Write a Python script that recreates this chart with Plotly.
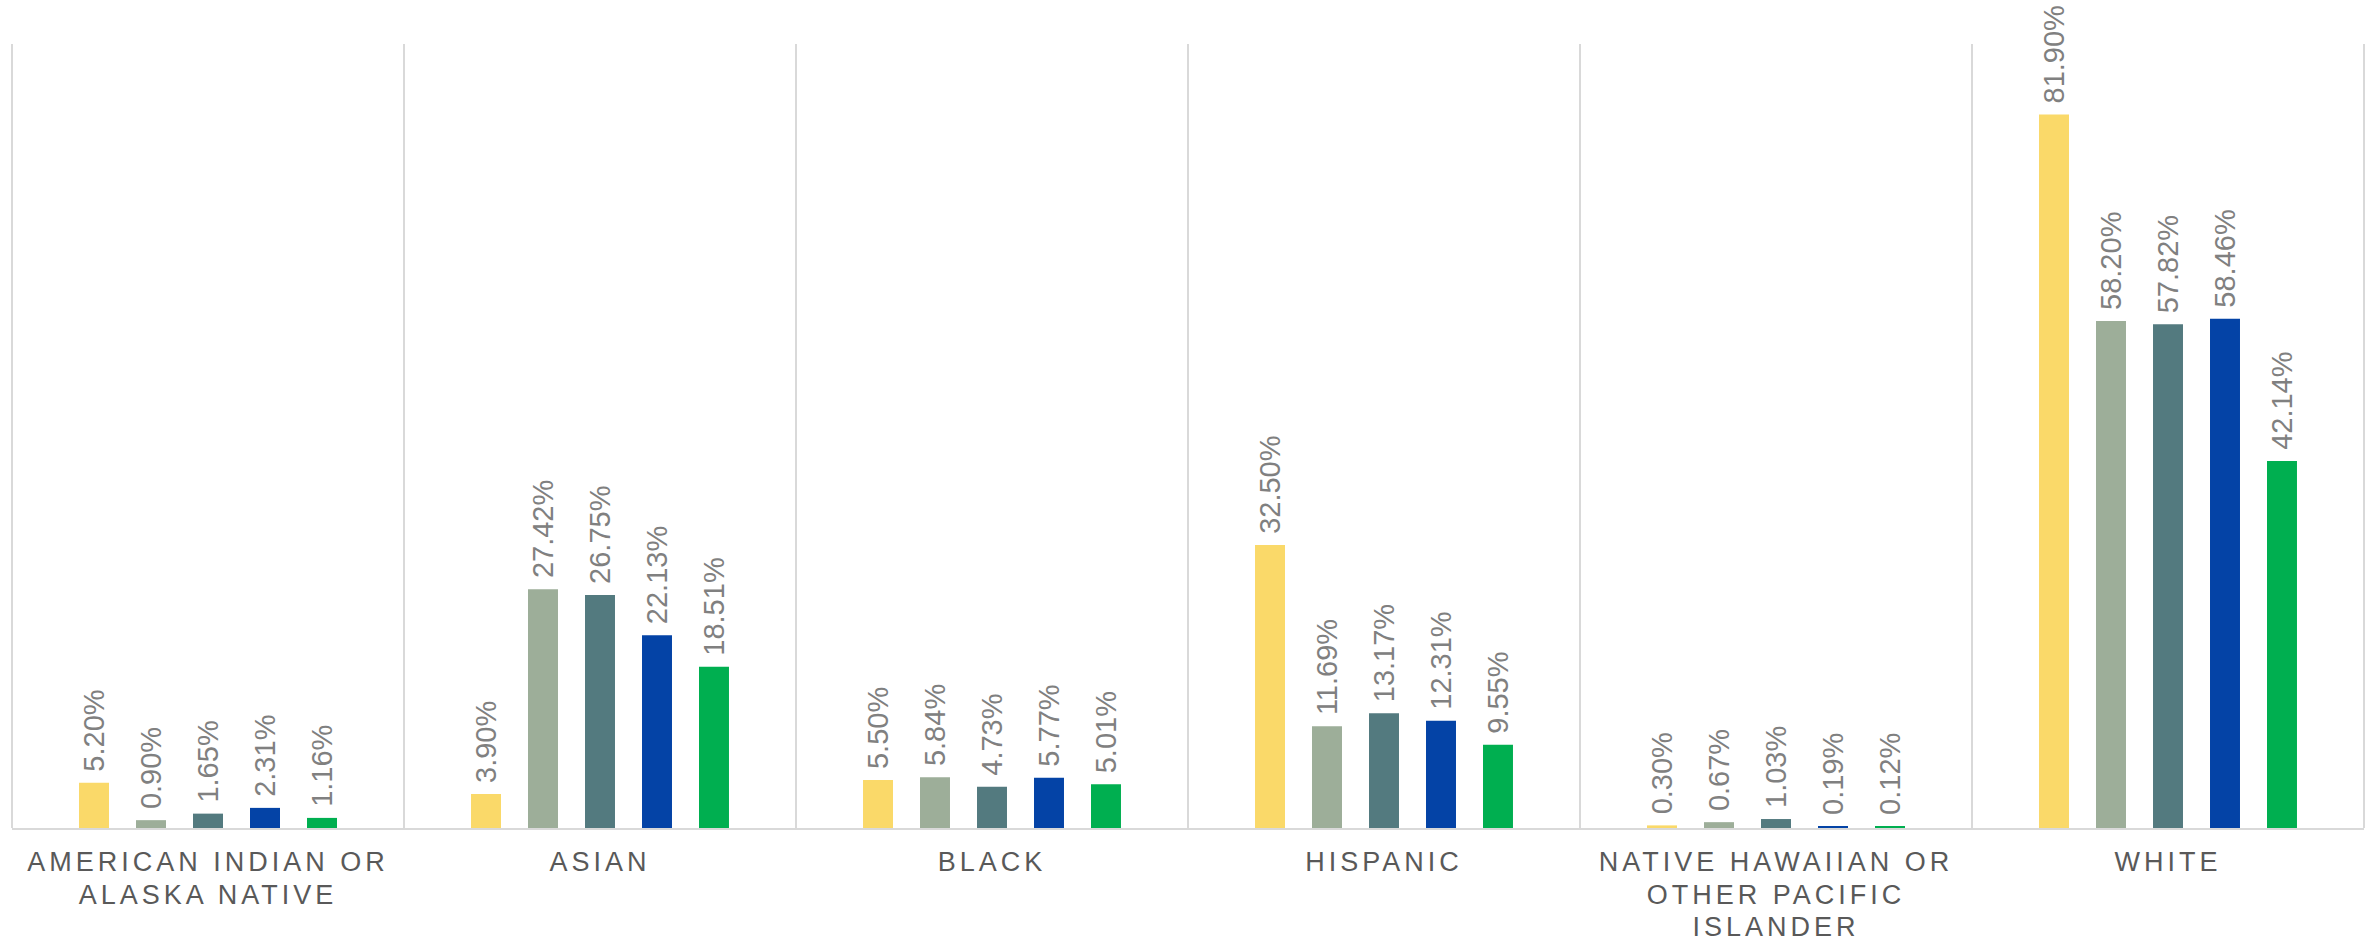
import plotly.graph_objects as go

categories = [
    "AMERICAN INDIAN OR<br>ALASKA NATIVE",
    "ASIAN",
    "BLACK",
    "HISPANIC",
    "NATIVE HAWAIIAN OR<br>OTHER PACIFIC<br>ISLANDER",
    "WHITE",
]

series_names = ["Series 1", "Series 2", "Series 3", "Series 4", "Series 5"]
series_colors = ["#FAD969", "#9DAE99", "#537A7F", "#0443A6", "#00AF50"]

s1 = [5.20, 3.90, 5.50, 32.50, 0.30, 81.90]
s2 = [0.90, 27.42, 5.84, 11.69, 0.67, 58.20]
s3 = [1.65, 26.75, 4.73, 13.17, 1.03, 57.82]
s4 = [2.31, 22.13, 5.77, 12.31, 0.19, 58.46]
s5 = [1.16, 18.51, 5.01, 9.55, 0.12, 42.14]

series_values = [s1, s2, s3, s4, s5]

fig = go.Figure()
PAD = "\u00a0"
for name, color, vals in zip(series_names, series_colors, series_values):
    fig.add_trace(go.Bar(
        x=categories,
        y=vals,
        name=name,
        marker=dict(color=color, line=dict(width=0)),
        text=[PAD + f"{v:.2f}%" for v in vals],
        textposition="outside",
        textangle=-90,
        constraintext="none",
        cliponaxis=False,
        textfont=dict(family="Liberation Sans, Arial, sans-serif", size=29, color="#808080"),
        hoverinfo="skip",
    ))

fig.update_layout(
    width=2377,
    height=941,
    margin=dict(l=12, r=13, t=44, b=113, autoexpand=False),
    paper_bgcolor="white",
    plot_bgcolor="white",
    barmode="group",
    bargap=0.273,
    bargroupgap=0.474,
    showlegend=False,
    font=dict(family="Liberation Sans, Arial, sans-serif"),
    shapes=[
        dict(type="line", xref="paper", yref="paper", x0=0, x1=0, y0=0, y1=1,
             line=dict(color="#D9D9D9", width=2)),
        dict(type="line", xref="paper", yref="paper", x0=1, x1=1, y0=0, y1=1,
             line=dict(color="#D9D9D9", width=2)),
    ],
)

fig.update_xaxes(
    type="category",
    automargin=False,
    tickson="boundaries",
    showgrid=True,
    gridcolor="#D9D9D9",
    gridwidth=2,
    showline=True,
    linecolor="#D9D9D9",
    linewidth=2,
    ticks="",
    ticklabelstandoff=9,
    tickfont=dict(family="Liberation Sans, Arial, sans-serif", size=27, color="#595959"),
)
fig.update_yaxes(
    range=[0, 90],
    visible=False,
    showgrid=False,
    zeroline=False,
)

post = """
document.querySelectorAll('.xtick text').forEach(function(t){
  t.setAttribute('letter-spacing','4px');
  t.querySelectorAll('tspan.line').forEach(function(s){
    var d = s.getAttribute('dy');
    if (d && d.indexOf('em') > 0) {
      var v = parseFloat(d);
      if (v !== 0) { s.setAttribute('dy', (v * 1.19 / 1.3) + 'em'); }
    }
  });
});
"""

fig.write_html("out.html", post_script=post)
